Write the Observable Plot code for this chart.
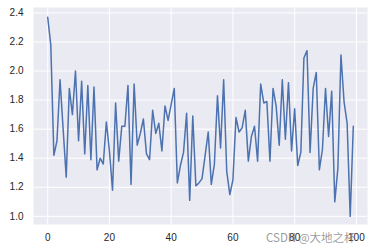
<!DOCTYPE html>
<html>
<head>
<meta charset="utf-8">
<script src="https://cdn.jsdelivr.net/npm/d3@7"></script>
<script src="https://cdn.jsdelivr.net/npm/@observablehq/plot@0.6"></script>
<style>
  html, body { margin: 0; padding: 0; background: #fff; }
  #wrap { position: relative; width: 374px; height: 251px; }
  #wm { position: absolute; left: 266px; top: 229px; font-family: "Noto Sans CJK SC", "Liberation Sans", sans-serif; font-size: 11.5px; color: rgba(120,120,120,0.75); white-space: nowrap; pointer-events: none; }
</style>
</head>
<body>
<div id="wrap"><div id="wm">CSDN @大地之杯</div></div>
<script>
const values = [
  2.37, 2.18, 1.42, 1.52, 1.94, 1.60, 1.27, 1.88, 1.70, 2.00,
  1.52, 1.93, 1.43, 1.90, 1.39, 1.89, 1.32, 1.40, 1.36, 1.65,
  1.45, 1.18, 1.78, 1.38, 1.62, 1.62, 1.90, 1.22, 1.91, 1.49,
  1.57, 1.67, 1.43, 1.39, 1.73, 1.57, 1.64, 1.45, 1.76, 1.66,
  1.77, 1.88, 1.23, 1.35, 1.44, 1.71, 1.11, 1.69, 1.21, 1.23,
  1.26, 1.42, 1.58, 1.22, 1.36, 1.83, 1.47, 1.94, 1.31, 1.15,
  1.25, 1.68, 1.58, 1.61, 1.73, 1.38, 1.55, 1.62, 1.38, 1.91,
  1.78, 1.79, 1.38, 1.88, 1.76, 1.49, 1.94, 1.53, 1.92, 1.45,
  1.74, 1.35, 1.44, 2.09, 2.14, 1.44, 1.88, 1.99, 1.32, 1.46,
  1.88, 1.55, 1.86, 1.10, 1.33, 2.11, 1.79, 1.64, 1.00, 1.62
];
const xTicks = [0, 20, 40, 60, 80, 100];
const yTicks = [1.0, 1.2, 1.4, 1.6, 1.8, 2.0, 2.2, 2.4];

const data = values.map((v, i) => ({i, v}));

const chart = Plot.plot({
  width: 374,
  height: 251,
  marginLeft: 33,
  marginRight: 7,
  marginTop: 7,
  marginBottom: 27,
  style: {fontFamily: "'Liberation Sans', Arial, sans-serif", fontSize: "10px", color: "#262626", background: "#fff"},
  x: {domain: [-4.6, 103.6], ticks: xTicks, tickSize: 0, tickPadding: 9, tickFormat: d => String(d), label: null},
  y: {domain: [0.944, 2.437], ticks: yTicks, tickSize: 0, tickPadding: 10, tickFormat: d => d.toFixed(1), label: null},
  marks: [
    Plot.frame({fill: "#eaeaf2", stroke: null}),
    Plot.gridX(xTicks, {stroke: "#fff", strokeOpacity: 1, strokeWidth: 1}),
    Plot.gridY(yTicks, {stroke: "#fff", strokeOpacity: 1, strokeWidth: 1}),
    Plot.axisX({ticks: xTicks, tickSize: 0, tickPadding: 9, tickFormat: d => String(d), label: null, fill: "#262626"}),
    Plot.axisY({ticks: yTicks, tickSize: 0, tickPadding: 10, tickFormat: d => d.toFixed(1), label: null, fill: "#262626"}),
    Plot.lineY(data, {x: "i", y: "v", stroke: "#4c72b0", strokeWidth: 1.5, curve: "linear"})
  ]
});
document.getElementById("wrap").prepend(chart);
</script>
</body>
</html>
